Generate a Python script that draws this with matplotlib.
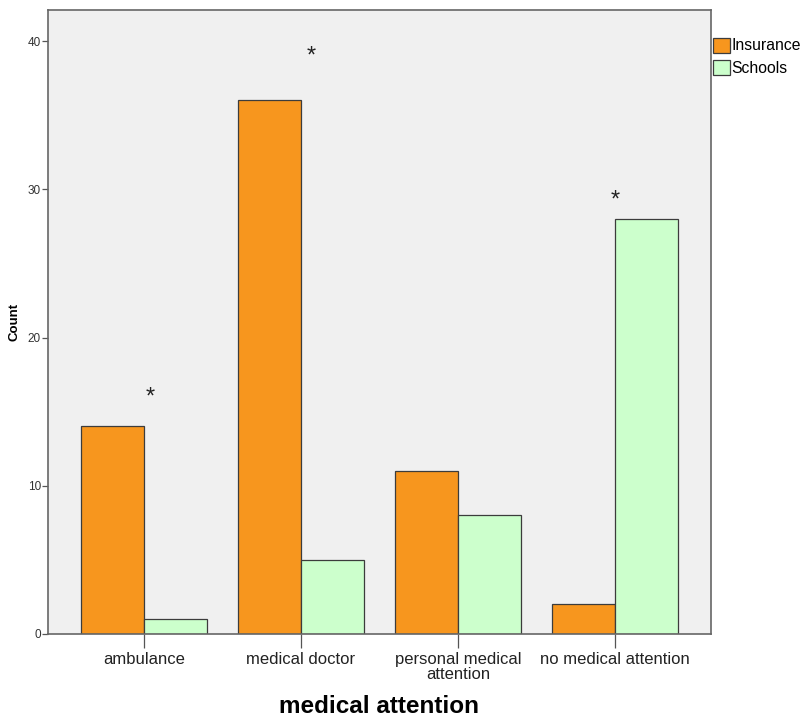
import matplotlib
matplotlib.use("Agg")
import matplotlib.pyplot as plt
import numpy as np

categories = ["ambulance", "medical doctor", "personal medical\nattention", "no medical attention"]
insurance = [14, 36, 11, 2]
schools = [1, 5, 8, 28]
star_x = [0.04, 1.065, 3.0]
star_y = [15.95, 38.95, 29.25]
yticks = [0, 10, 20, 30, 40]

plt.rcParams['font.family'] = ['Liberation Sans', 'DejaVu Sans']

fig = plt.figure(figsize=(8.03, 7.18), dpi=100)
ax = fig.add_axes([48/803, 1-634/718, (711-48)/803, (634-10)/718])
ax.set_facecolor('#F0F0F0')

x = np.arange(len(categories))
w = 0.4
ax.bar(x - w/2, insurance, w, color='#F7961E', edgecolor='#3C3C3C', linewidth=0.9, label='Insurance', zorder=2)
ax.bar(x + w/2, schools, w, color='#CCFFCC', edgecolor='#3C3C3C', linewidth=0.9, label='Schools', zorder=2)

for sx, sy in zip(star_x, star_y):
    ax.text(sx, sy, '*', ha='center', va='center', fontsize=17, color='#222222')

ax.set_xlim(-0.61, 3.61)
ax.set_ylim(0, 42.1)
ax.set_yticks(yticks)
ax.set_yticklabels([str(t) for t in yticks], fontsize=8.5, color='#333333')
ax.set_xticks(x)
ax.set_xticklabels(categories, fontsize=12, color='#222222', linespacing=1.0)
ax.tick_params(axis='x', length=10, width=0.9, color='#555555', pad=3)
ax.tick_params(axis='y', length=4, width=0.9, color='#555555', pad=1)
for s in ax.spines.values():
    s.set_color('#666666')
    s.set_linewidth(1.2)

ax.set_ylabel('Count', fontsize=9.5, fontweight='bold', labelpad=5)
ax.set_xlabel('medical attention', fontsize=17.5, fontweight='bold', labelpad=9)

leg = fig.legend(loc='upper left', bbox_to_anchor=(711/803, 1-36/718), frameon=False,
                 fontsize=11.3, handlelength=1.1, handleheight=1.1, handletextpad=0.1,
                 labelspacing=0.4, borderaxespad=0, borderpad=0.1)

fig.savefig('out.png', dpi=100, facecolor='white')
